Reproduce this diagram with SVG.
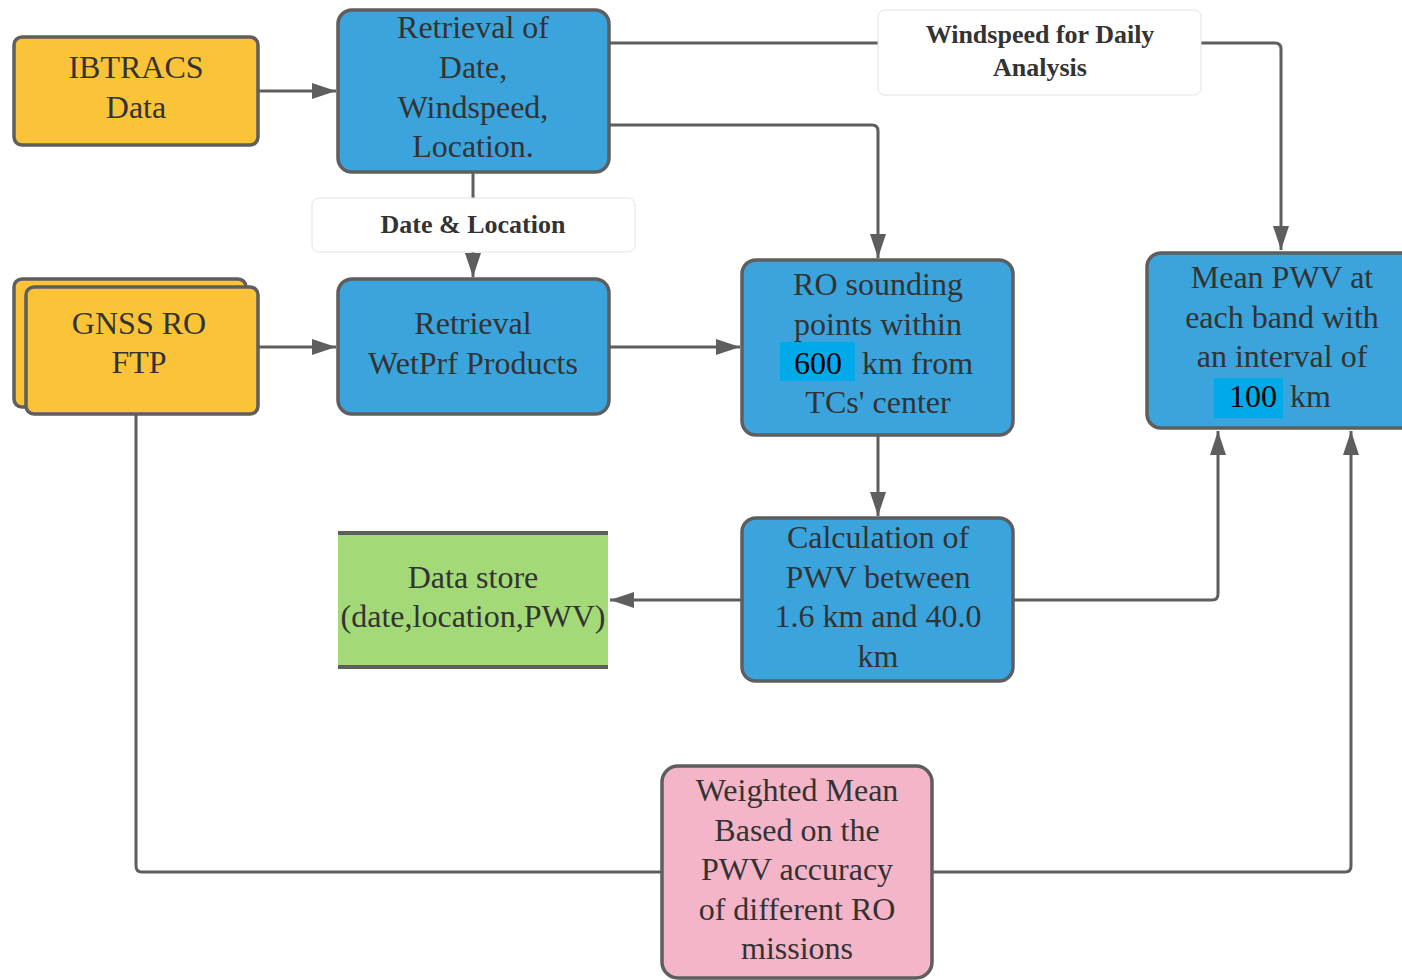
<svg xmlns="http://www.w3.org/2000/svg" width="1402" height="980" viewBox="0 0 1402 980">
<defs>
<marker id="ah" markerWidth="24" markerHeight="16" refX="24" refY="8" orient="auto" markerUnits="userSpaceOnUse"><path d="M0,0 L24,8 L0,16 Z" fill="#5e5e5e"/></marker>
<style>
.node{stroke:#5e5e5e;stroke-width:3.5}
.y{fill:#fbc338}
.b{fill:#3ba4dc}
.g{fill:#a3d977}
.p{fill:#f4b5c8}
.t{font-family:'Liberation Serif',serif;font-size:32px;fill:#333333;text-anchor:middle}
.lb{font-family:'Liberation Serif',serif;font-size:26px;font-weight:bold;fill:#333333;text-anchor:middle}
.c{fill:none;stroke:#5e5e5e;stroke-width:3}
.lbox{fill:#ffffff;stroke:#e2e2e2;stroke-width:1}
.hl{fill:#00a9e8}
</style>
</defs>
<rect width="1402" height="980" fill="#ffffff"/>
<g id="connectors">
<path class="c" d="M258,91 H336" marker-end="url(#ah)"/>
<path class="c" d="M609,43 H1275 Q1281,43 1281,49 V250" marker-end="url(#ah)"/>
<path class="c" d="M609,125 H872 Q878,125 878,131 V258" marker-end="url(#ah)"/>
<path class="c" d="M473,172 V277" marker-end="url(#ah)"/>
<path class="c" d="M258,347 H336" marker-end="url(#ah)"/>
<path class="c" d="M609,347 H740" marker-end="url(#ah)"/>
<path class="c" d="M878,435 V516" marker-end="url(#ah)"/>
<path class="c" d="M742,600 H610" marker-end="url(#ah)"/>
<path class="c" d="M1013,600 H1212 Q1218,600 1218,594 V431" marker-end="url(#ah)"/>
<path class="c" d="M136,414 V866 Q136,872 142,872 H662"/>
<path class="c" d="M932,872 H1345 Q1351,872 1351,866 V431" marker-end="url(#ah)"/>
<g id="label-windspeed">
<rect class="lbox" x="878" y="10" width="323" height="85" rx="7"/>
<text class="lb" x="1040" y="43">Windspeed for Daily</text>
<text class="lb" x="1040" y="76">Analysis</text>
</g>
<g id="label-date-location">
<rect class="lbox" x="312" y="198" width="323" height="54" rx="7"/>
<text class="lb" x="473" y="233">Date &amp; Location</text>
</g>
</g>
<g id="ibtracs">
<rect class="node y" x="14" y="37" width="244" height="108" rx="8"/>
<text class="t" x="136" y="78">IBTRACS</text>
<text class="t" x="136" y="118">Data</text>
</g>
<g id="retrieval-date">
<rect class="node b" x="338" y="10" width="271" height="162" rx="14"/>
<text class="t" x="473" y="38">Retrieval of</text>
<text class="t" x="473" y="78">Date,</text>
<text class="t" x="473" y="118">Windspeed,</text>
<text class="t" x="473" y="157">Location.</text>
</g>
<g id="gnss">
<rect class="node y" x="14" y="279" width="232" height="128" rx="8"/>
<rect class="node y" x="26" y="287" width="232" height="127" rx="8"/>
<text class="t" x="139" y="334">GNSS RO</text>
<text class="t" x="139" y="373">FTP</text>
</g>
<g id="retrieval-wetprf">
<rect class="node b" x="338" y="279" width="271" height="135" rx="14"/>
<text class="t" x="473" y="334">Retrieval</text>
<text class="t" x="473" y="374">WetPrf Products</text>
</g>
<g id="ro-sounding">
<rect class="node b" x="742" y="260" width="271" height="175" rx="14"/>
<rect class="hl" x="780" y="342" width="75" height="39"/>
<text class="t" x="878" y="295">RO sounding</text>
<text class="t" x="878" y="335">points within</text>
<text class="t" x="818" y="374" style="fill:#000000">600</text>
<text class="t" x="862" y="374" style="text-anchor:start">km from</text>
<text class="t" x="878" y="413">TCs' center</text>
</g>
<g id="mean-pwv">
<rect class="node b" x="1147" y="253" width="270" height="175" rx="14"/>
<rect class="hl" x="1214" y="378" width="69" height="40"/>
<text class="t" x="1282" y="288">Mean PWV at</text>
<text class="t" x="1282" y="328">each band with</text>
<text class="t" x="1282" y="367">an interval of</text>
<text class="t" x="1253" y="407" style="fill:#000000">100</text>
<text class="t" x="1290" y="407" style="text-anchor:start">km</text>
</g>
<g id="calculation">
<rect class="node b" x="742" y="518" width="271" height="163" rx="14"/>
<text class="t" x="878" y="548">Calculation of</text>
<text class="t" x="878" y="588">PWV between</text>
<text class="t" x="878" y="627">1.6 km and 40.0</text>
<text class="t" x="878" y="667">km</text>
</g>
<g id="data-store">
<rect class="g" x="338" y="533" width="270" height="134"/>
<path d="M338,533 H608 M338,667 H608" stroke="#5e5e5e" stroke-width="4" fill="none"/>
<text class="t" x="473" y="588">Data store</text>
<text class="t" x="473" y="627">(date,location,PWV)</text>
</g>
<g id="weighted-mean">
<rect class="node p" x="662" y="766" width="270" height="212" rx="16"/>
<text class="t" x="797" y="801">Weighted Mean</text>
<text class="t" x="797" y="841">Based on the</text>
<text class="t" x="797" y="880">PWV accuracy</text>
<text class="t" x="797" y="920">of different RO</text>
<text class="t" x="797" y="959">missions</text>
</g>
</svg>
